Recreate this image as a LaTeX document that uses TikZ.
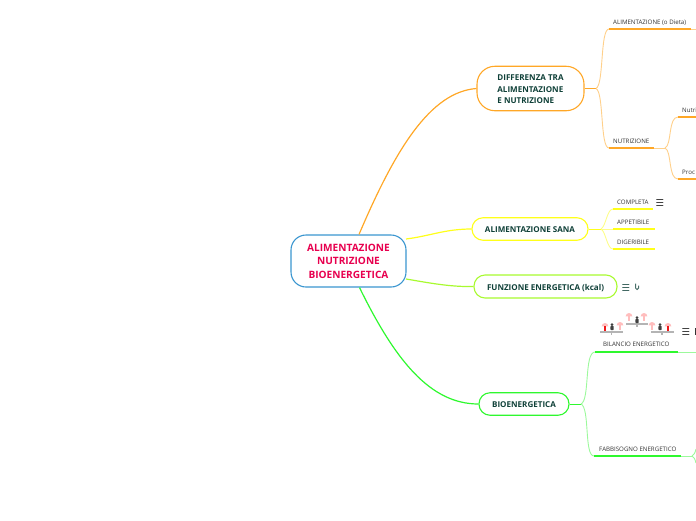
\documentclass[tikz,border=0pt]{standalone}
\usepackage{fontspec}
\setmainfont{Open Sans}
\newfontfamily\symfont{DejaVu Sans}
\definecolor{orgc}{HTML}{FFA726}
\definecolor{orgl}{HTML}{FFD08A}
\definecolor{yelc}{HTML}{FFFF1A}
\definecolor{yell}{HTML}{FDFD8A}
\definecolor{limc}{HTML}{A8FA2F}
\definecolor{grnc}{HTML}{2EF82E}
\definecolor{grnl}{HTML}{9CF99C}
\definecolor{darkt}{HTML}{0F4038}
\definecolor{subt}{HTML}{333333}
\definecolor{roott}{HTML}{E8004F}
\definecolor{rootb}{HTML}{3A96D0}
\definecolor{paler}{HTML}{FFBDBD}
\definecolor{redf}{HTML}{F01818}
\definecolor{darkf}{HTML}{404040}
\definecolor{barc}{HTML}{B4B4B4}
\newcommand{\hatfig}[4]{% x, y, body colour, hat colour
  \fill[#4] (#1-3.4,#2-1.6) arc[start angle=180,end angle=360,radius=3.4] -- cycle;
  \fill[#3] (#1-1.3,#2-1.6) rectangle (#1+1.3,#2+3);
}
\newcommand{\darkfig}[2]{% x, y
  \fill[darkf] (#1,#2-2.4) circle[radius=1.5];
  \fill[darkf,rounded corners=.8pt] (#1-1.6,#2-1.2) rectangle (#1+1.6,#2+3.2);
}
\newcommand{\balancebar}[3]{% x, y, half width
  \fill[barc] (#1-#3,#2-1) rectangle (#1+#3,#2+1);
  \fill[barc] (#1-.7,#2) rectangle (#1+.7,#2+3);
}
\newcommand{\midline}[1]{\raisebox{-3.7pt}[0pt][0pt]{#1}}
\tikzset{
  x=1pt,y=-1pt,
  rootbox/.style={draw=rootb,line width=1.1pt,rounded corners=15pt,fill=white,minimum width=115pt,minimum height=52pt,align=center,inner sep=0pt,text=roott,font=\fontsize{10.1}{13.5}\selectfont\bfseries},
  mainbox/.style={draw=#1,line width=1.1pt,rounded corners=11pt,fill=white,inner sep=0pt,text=darkt,font=\fontsize{8.05}{11.5}\selectfont\bfseries},
  sublabel/.style={inner sep=0pt,text=subt,anchor=base west,font=\fontsize{6.15}{7}\selectfont},
  rule/.style={line width=1.4pt,draw=#1},
  thin curve/.style={line width=.9pt,draw=#1},
  lead/.style={line width=1.2pt,draw=#1},
  menuicon/.style={inner sep=0pt,text=subt,font=\symfont\fontsize{9.5}{9.5}\selectfont},
}
\begin{document}
\begin{tikzpicture}
\useasboundingbox (0,0) rectangle (696,520);
\clip (0,0) rectangle (696,520);
% --- free ends
\coordinate (o1) at (609,29); \coordinate (o1e) at (691,29); \coordinate (o1x) at (696,29);
\coordinate (o2) at (609,148); \coordinate (o2e) at (654,148); \coordinate (oj) at (665,148);
\coordinate (o3) at (678,117); \coordinate (o3x) at (696,117);
\coordinate (o4) at (678,179); \coordinate (o4x) at (696,179);
\coordinate (y1) at (613,209); \coordinate (y1e) at (653,209);
\coordinate (y2) at (613,229); \coordinate (y2e) at (655,229);
\coordinate (y3) at (613,249); \coordinate (y3e) at (655,249);
\coordinate (g1) at (595,352); \coordinate (g1e) at (678,352); \coordinate (g1x) at (696,352);
\coordinate (g2) at (594,456); \coordinate (g2e) at (681,456); \coordinate (gj) at (692,456);
% --- nodes
\node[rootbox] (root) at (348.5,261) {ALIMENTAZIONE\\NUTRIZIONE\\BIOENERGETICA};
\node[mainbox=orgc,minimum width=107pt,minimum height=44.5pt,rounded corners=18pt,align=left] (dif) at (530.5,88.5) {\rule{0pt}{8pt}DIFFERENZA TRA\\ALIMENTAZIONE\\E NUTRIZIONE};
\node[mainbox=yelc,minimum width=116pt,minimum height=22.5pt] (san) at (530,229) {\midline{ALIMENTAZIONE SANA}};
\node[mainbox=limc,minimum width=143pt,minimum height=23pt] (fun) at (545.5,286.5) {\midline{FUNZIONE ENERGETICA (kcal)}};
\node[mainbox=grnc,minimum width=90pt,minimum height=22.5pt] (bio) at (524,404) {\midline{BIOENERGETICA}};
% --- main connectors
\draw[lead=orgc] (root.north) ++(10.5,0) coordinate (ra) .. controls (395,150) and (430,92) .. (dif.west);
\draw[lead=yelc] (root.east) ++(-0.5,-22) coordinate (rb) .. controls (430,236) and (445,229) .. (san.west);
\draw[lead=limc] (root.east) ++(-0.5,18) coordinate (rc) .. controls (430,283) and (450,287) .. (fun.west);
\draw[lead=grnc] (root.south) ++(11,0) coordinate (rd) .. controls (395,360) and (430,404) .. (bio.west);
% --- second level
\draw[thin curve=orgc] (dif.east) -- (596,88.5);
\draw[thin curve=orgl] (596,88.5) .. controls (604,85) and (600,29) .. (o1);
\draw[thin curve=orgl] (596,88.5) .. controls (604,92) and (600,148) .. (o2);
\draw[rule=orgc] (o1) -- (o1e);
\draw[thin curve=orgl] (o1e) -- (o1x);
\draw[rule=orgc] (o2) -- (o2e);
\draw[thin curve=orgl] (o2e) -- (oj);
\draw[thin curve=orgl] (oj) .. controls (672,145) and (668,117) .. (o3);
\draw[thin curve=orgl] (oj) .. controls (672,151) and (668,179) .. (o4);
\draw[rule=orgc] (o3) -- (o3x);
\draw[rule=orgc] (o4) -- (o4x);
\draw[thin curve=yelc] (san.east) -- (601,229);
\draw[thin curve=yell] (601,229) .. controls (606,226) and (607,209) .. (y1);
\draw[thin curve=yell] (601,229) -- (y2);
\draw[thin curve=yell] (601,229) .. controls (606,232) and (607,249) .. (y3);
\draw[rule=yelc] (y1) -- (y1e);
\draw[rule=yelc] (y2) -- (y2e);
\draw[rule=yelc] (y3) -- (y3e);
\draw[thin curve=grnc] (bio.east) -- (581,404);
\draw[thin curve=grnl] (581,404) .. controls (590,400) and (584,352) .. (g1);
\draw[thin curve=grnl] (581,404) .. controls (590,408) and (584,456) .. (g2);
\draw[rule=grnc] (g1) -- (g1e);
\draw[thin curve=grnl] (g1e) -- (g1x);
\draw[rule=grnc] (g2) -- (g2e);
\draw[thin curve=grnl] (g2e) -- (gj);
\draw[thin curve=grnl] (gj) .. controls (694,455) and (695,453) .. (696,449);
\draw[thin curve=grnl] (gj) .. controls (694,457) and (695,459) .. (696,463);
% --- labels
\node[sublabel] (t1) at (613,24) {ALIMENTAZIONE (o Dieta)};
\node[sublabel] (t2) at (613,143) {NUTRIZIONE};
\node[sublabel] (t3) at (682,112) {Nutri};
\node[sublabel] (t4) at (682,174) {Proc};
\node[sublabel] (t5) at (617,204) {COMPLETA};
\node[sublabel] (t6) at (617,224) {APPETIBILE};
\node[sublabel] (t7) at (617,244) {DIGERIBILE};
\node[sublabel] (t8) at (603,346.5) {BILANCIO ENERGETICO};
\node[sublabel] (t9) at (599,451.5) {FABBISOGNO ENERGETICO};
% --- icons
\node[menuicon] (m1) at (660,203) {☰};
\node[menuicon,text=darkt!85] (m2) at (626,288) {☰};
\node[menuicon] (m3) at (686,332.5) {☰};
\draw[line width=1pt,subt] (695.5,328) -- (695.5,335);
\draw[line width=.9pt,darkt!75] (635.6,283.5) -- (635.6,288) arc[start angle=180,end angle=0,radius=1.5] -- (638.6,285.5);
% --- balance picture
\balancebar{611.5}{332}{11.5}
\hatfig{605}{328}{redf}{paler}
\darkfig{612}{327}
\hatfig{620}{327}{paler}{paler}
\balancebar{637}{324}{11}
\hatfig{629}{318}{paler}{paler}
\darkfig{637}{320}
\hatfig{644}{318}{paler}{paler}
\balancebar{662}{332}{11.5}
\hatfig{652}{327}{paler}{paler}
\darkfig{660}{327}
\hatfig{668}{328}{redf}{paler}
\end{tikzpicture}
\end{document}
